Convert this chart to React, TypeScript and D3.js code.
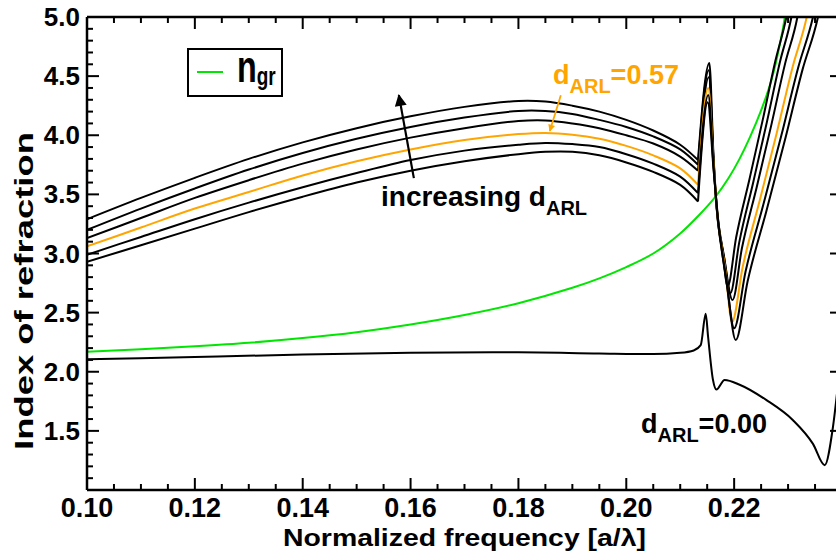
import React from "react";
import * as d3 from "d3";

const W = 836;
const H = 559;

// ---- tick labels ----
const xTickValues = [0.1, 0.12, 0.14, 0.16, 0.18, 0.2, 0.22];
const xTickLabels = ["0.10", "0.12", "0.14", "0.16", "0.18", "0.20", "0.22"];
const yTickValues = [1.5, 2.0, 2.5, 3.0, 3.5, 4.0, 4.5, 5.0];
const yTickLabels = ["1.5", "2.0", "2.5", "3.0", "3.5", "4.0", "4.5", "5.0"];

// ---- shared left-branch frequencies for the six d_ARL curves ----
const leftFreq = [0.1, 0.11, 0.12, 0.13, 0.14, 0.15, 0.16, 0.17, 0.18, 0.185, 0.19, 0.195, 0.2, 0.205, 0.21, 0.2133];
const c0Left = [3.29, 3.47, 3.64, 3.8, 3.94, 4.06, 4.16, 4.24, 4.29, 4.285, 4.25, 4.2, 4.13, 4.04, 3.92, 3.79];
const c1Left = [3.2, 3.38, 3.55, 3.71, 3.85, 3.97, 4.07, 4.15, 4.205, 4.205, 4.18, 4.13, 4.07, 3.99, 3.88, 3.75];
const c2Left = [3.13, 3.3, 3.47, 3.62, 3.76, 3.88, 3.98, 4.06, 4.12, 4.125, 4.1, 4.06, 4.0, 3.93, 3.82, 3.7];
const c3Left = [3.06, 3.22, 3.38, 3.52, 3.66, 3.78, 3.88, 3.96, 4.01, 4.02, 4.005, 3.97, 3.91, 3.83, 3.72, 3.58];
const c4Left = [2.99, 3.14, 3.29, 3.43, 3.56, 3.68, 3.79, 3.87, 3.92, 3.935, 3.925, 3.9, 3.84, 3.76, 3.65, 3.51];
const c5Left = [2.93, 3.07, 3.21, 3.35, 3.48, 3.6, 3.7, 3.78, 3.84, 3.86, 3.86, 3.83, 3.77, 3.69, 3.58, 3.44];

// ---- dip, spike + right branch [f, n] ----
const c0Right = [[0.2133, 3.79], [0.2154, 4.61], [0.2162, 3.8], [0.2168, 3.38], [0.2178, 3.05], [0.2188, 2.72], [0.22037, 3.135], [0.22285, 3.63], [0.22532, 4.134], [0.22764, 4.628], [0.22969, 5.0], [0.2302, 5.12]];
const c1Right = [[0.2133, 3.75], [0.2153, 4.55], [0.2162, 3.78], [0.2168, 3.37], [0.2181, 2.98], [0.2193, 2.665], [0.22093, 3.09], [0.22351, 3.597], [0.22608, 4.113], [0.22849, 4.619], [0.23062, 5.0], [0.2311, 5.12]];
const c2Right = [[0.2133, 3.7], [0.2153, 4.49], [0.2162, 3.76], [0.2168, 3.36], [0.2182, 2.95], [0.2197, 2.606], [0.22143, 3.042], [0.22418, 3.561], [0.22691, 4.09], [0.22947, 4.61], [0.23173, 5.0], [0.2322, 5.12]];
const c3Right = [[0.2133, 3.58], [0.2152, 4.4], [0.2162, 3.74], [0.2169, 3.33], [0.2184, 2.85], [0.2196, 2.42], [0.2216, 2.89], [0.22475, 3.45], [0.2279, 4.02], [0.23086, 4.58], [0.23346, 5.0], [0.234, 5.12]];
const c4Right = [[0.2133, 3.51], [0.2152, 4.34], [0.2162, 3.72], [0.2169, 3.32], [0.2185, 2.8], [0.22, 2.367], [0.22211, 2.846], [0.22544, 3.418], [0.22876, 3.999], [0.23187, 4.571], [0.23462, 5.0], [0.2352, 5.12]];
const c5Right = [[0.2133, 3.44], [0.2151, 4.28], [0.2162, 3.7], [0.217, 3.3], [0.2187, 2.72], [0.2203, 2.268], [0.2225, 2.765], [0.22597, 3.358], [0.22943, 3.962], [0.23268, 4.555], [0.23555, 5.0], [0.2361, 5.12]];

// ---- d_ARL = 0.00 curve [f, n] ----
const d0Points = [[0.1, 2.105], [0.12, 2.125], [0.14, 2.145], [0.16, 2.16], [0.18, 2.165], [0.195, 2.155], [0.205, 2.15], [0.21, 2.16], [0.2125, 2.18], [0.2138, 2.225], [0.21473, 2.49], [0.21516, 2.3], [0.21608, 1.93], [0.2167, 1.85], [0.21824, 1.93], [0.22102, 1.89], [0.226, 1.76], [0.23092, 1.59], [0.23462, 1.39], [0.23679, 1.21], [0.23833, 1.535], [0.2395, 2.0]];

// ---- group index n_gr [f, n] ----
const greenPoints = [[0.1, 2.17], [0.11, 2.19], [0.12, 2.215], [0.13, 2.245], [0.14, 2.285], [0.15, 2.335], [0.16, 2.4], [0.17, 2.48], [0.18, 2.58], [0.19, 2.71], [0.195, 2.79], [0.2, 2.885], [0.205, 3.0], [0.21, 3.17], [0.2136, 3.33], [0.2167, 3.49], [0.219, 3.64], [0.221, 3.8], [0.223, 3.99], [0.225, 4.21], [0.227, 4.48], [0.229, 4.89], [0.2294, 5.0], [0.2299, 5.12]];

const curveLefts = [c0Left, c1Left, c2Left, c3Left, c4Left, c5Left];
const curveRights = [c0Right, c1Right, c2Right, c3Right, c4Right, c5Right];
const curveColors = ["#000", "#000", "#000", "#FFA500", "#000", "#000"];

const PL = 87, PR = 842, PT = 17, PB = 490;
const GREEN = "#00E600";
const ORANGE = "#FFA500";

export default function App() {
  const x = d3.scaleLinear().domain([0.1, 0.24]).range([PL, PR]);
  const y = d3.scaleLinear().domain([1, 5]).range([PB, PT]);
  const smooth = d3
    .line<number[]>()
    .x((d) => x(d[0]))
    .y((d) => y(d[1]))
    .curve(d3.curveCatmullRom.alpha(0.5));
  const mono = d3
    .line<number[]>()
    .x((d) => x(d[0]))
    .y((d) => y(d[1]))
    .curve(d3.curveMonotoneX);

  const curves = curveLefts.map((vals, i) => ({
    left: leftFreq.map((f, j) => [f, vals[j]]),
    right: curveRights[i],
    color: curveColors[i],
  }));

  const xMinor = d3.range(0, 29).map((i) => ({ v: 0.1 + i * 0.005, major: i % 4 === 0 }));
  const yMinor = d3.range(0, 41).map((i) => ({ v: 1 + i * 0.1, major: i % 5 === 0 }));

  const font = "'Liberation Sans', Arial, Helvetica, sans-serif";
  const bigArrow = { x1: x(0.16061), y1: y(3.637), x2: x(0.15783), y2: y(4.339) };
  const orArrow = { x1: x(0.18786), y1: y(4.339), x2: x(0.18582), y2: y(4.035) };

  return (
    <svg
      width={W}
      height={H}
      viewBox={`0 0 ${W} ${H}`}
      style={{ position: "absolute", left: 0, top: 0, background: "#fff" }}
      fontFamily={font}
      fontWeight="bold"
    >
      <defs>
        <clipPath id="plotclip">
          <rect x={PL} y={PT} width={PR - PL} height={PB - PT} />
        </clipPath>
        <marker id="ahBlack" viewBox="0 0 10 10" refX="9" refY="5" markerWidth="16" markerHeight="12" markerUnits="userSpaceOnUse" orient="auto">
          <path d="M0,0 L10,5 L0,10 z" fill="#000" />
        </marker>
        <marker id="ahOrange" viewBox="0 0 10 10" refX="9" refY="5" markerWidth="9" markerHeight="7" markerUnits="userSpaceOnUse" orient="auto">
          <path d="M0,0 L10,5 L0,10 z" fill={ORANGE} />
        </marker>
      </defs>
      <rect x={0} y={0} width={W} height={H} fill="#fff" />

      <g clipPath="url(#plotclip)" fill="none" strokeLinejoin="round">
        <path d={smooth(greenPoints) || ""} stroke={GREEN} strokeWidth={2} />
        <path d={mono(d0Points) || ""} stroke="#000" strokeWidth={2} />
        {curves.map((c, i) => (
          <g key={i}>
            <path d={smooth(c.left) || ""} stroke={c.color} strokeWidth={2} />
            <path d={mono(c.right) || ""} stroke={c.color} strokeWidth={2} />
          </g>
        ))}
      </g>

      {/* axes frame */}
      <g stroke="#000" strokeWidth={2.5} fill="none">
        <line x1={PL} y1={PB} x2={PR} y2={PB} />
        <line x1={PL} y1={PT} x2={PR} y2={PT} />
        <line x1={PL} y1={PT} x2={PL} y2={PB} />
        <line x1={PR} y1={PT} x2={PR} y2={PB} />
      </g>
      <g stroke="#000" strokeWidth={2}>
        {xMinor.map((t, i) => {
          const len = t.major ? 12 : 6;
          const px = x(t.v);
          return (
            <g key={i}>
              <line x1={px} y1={PB} x2={px} y2={PB - len} />
              <line x1={px} y1={PT} x2={px} y2={PT + len} />
            </g>
          );
        })}
        {yMinor.map((t, i) => {
          const len = t.major ? 12 : 6;
          const py = y(t.v);
          return (
            <g key={i}>
              <line x1={PL} y1={py} x2={PL + len} y2={py} />
              <line x1={PR} y1={py} x2={PR - len} y2={py} />
            </g>
          );
        })}
      </g>

      {/* tick labels */}
      <g fontSize={27} fill="#000">
        {xTickValues.map((v, i) => (
          <text key={i} x={x(v)} y={517} textAnchor="middle">
            {xTickLabels[i]}
          </text>
        ))}
      </g>
      <g fontSize={26} fill="#000">
        {yTickValues.map((v, i) => (
          <text key={i} x={80} y={y(v) + 9} textAnchor="end">
            {yTickLabels[i]}
          </text>
        ))}
      </g>

      {/* axis titles */}
      <text x={283} y={546} fontSize={24} textLength={363} lengthAdjust="spacingAndGlyphs">
        Normalized frequency [a/λ]
      </text>
      <text
        transform="translate(33,450) rotate(-90)"
        x={0}
        y={0}
        fontSize={25}
        textLength={318}
        lengthAdjust="spacingAndGlyphs"
      >
        Index of refraction
      </text>

      {/* legend */}
      <rect x={188} y={49} width={94} height={47} fill="#fff" stroke="#000" strokeWidth={2} />
      <line x1={197} y1={72} x2={223} y2={72} stroke={GREEN} strokeWidth={2} />
      <text transform="translate(237,82) scale(0.95,1.3)" fontSize={34}>
        n
        <tspan fontSize={20} dy={2.6}>gr</tspan>
      </text>

      {/* annotations */}
      <line {...bigArrow} stroke="#000" strokeWidth={2.2} markerEnd="url(#ahBlack)" />
      <text x={381} y={206} fontSize={28}>
        increasing d
        <tspan fontSize={20} dy={9}>ARL</tspan>
      </text>

      <line {...orArrow} stroke={ORANGE} strokeWidth={1.8} markerEnd="url(#ahOrange)" />
      <text x={553} y={84} fontSize={27} fill={ORANGE}>
        d<tspan fontSize={20} dy={9}>ARL</tspan>
        <tspan dy={-9}>=0.57</tspan>
      </text>

      <text x={641} y={433} fontSize={27} fill="#000">
        d<tspan fontSize={20} dy={9}>ARL</tspan>
        <tspan dy={-9}>=0.00</tspan>
      </text>
    </svg>
  );
}
